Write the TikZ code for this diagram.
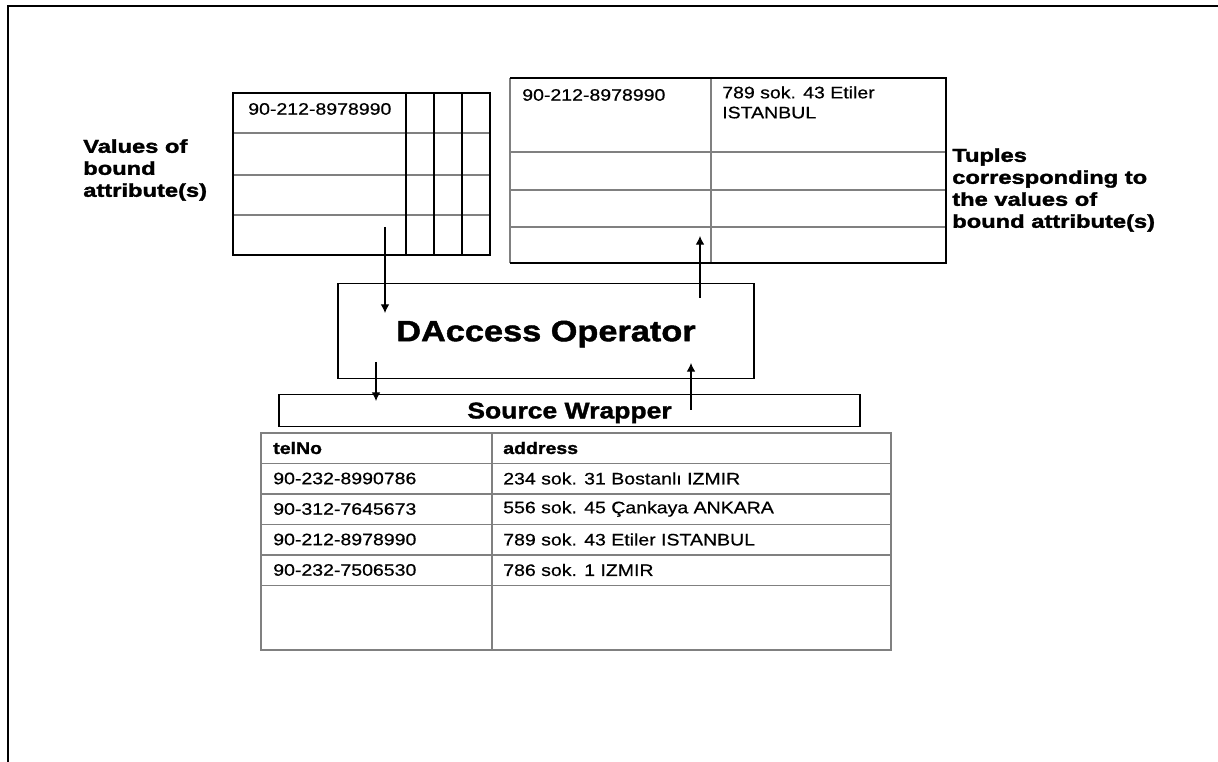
\documentclass[tikz,border=0pt]{standalone}
\usepackage{fontspec}
\setmainfont[FakeStretch=1.17, UprightFeatures={FakeBold=0.6}, BoldFeatures={FakeBold=1.5}]{Liberation Sans}
\newfontfamily\sidefont[FakeStretch=1.27, FakeBold=1.8]{Liberation Sans Bold}
\usetikzlibrary{arrows.meta}

\begin{document}
\begin{tikzpicture}[x=0.75pt, y=-0.75pt, >={Latex[length=6.5pt,width=6.5pt]},
  cell/.style={anchor=west, inner sep=0pt, font=\fontsize{12.5}{15}\selectfont},
  sidetext/.style={anchor=north west, align=left, inner sep=0pt, font=\fontsize{14}{16.5}\selectfont\sidefont},
  gline/.style={draw=gray, line width=1.2pt},
  boxline/.style={draw, line width=0.9pt, text depth=0pt}]
\useasboundingbox (0,0) rectangle (1218,762);

% frame
\draw[line width=1.5pt] (8,762) -- (8,6) -- (1218,6);

% bound values
\foreach \y in {133,175,215} \draw[gline] (233,\y) -- (490,\y);
\foreach \x in {406,434,462} \draw[line width=0.8pt] (\x,93) -- (\x,255);
\draw[line width=2.2pt] (233,93) rectangle (490,255);
\node[cell] (bv) at (248,109) {90-212-8978990};
\node[sidetext] (vlab) at (83,139) {Values of\\bound\\attribute(s)};

% result tuples
\foreach \y in {152,190,227} \draw[gline] (510,\y) -- (946,\y);
\draw[gline] (711,78) -- (711,263);
\draw[gline] (510,78) -- (510,263);
\draw[line width=2.2pt] (510,78) -- (946,78) -- (946,263) -- (510,263);
\node[cell] (rt) at (522,95) {90-212-8978990};
\node[cell, anchor=north west, align=left] (ra) at (722,86) {789 sok. 43 Etiler\\ISTANBUL};
\node[sidetext] (tlab) at (952,148) {Tuples\\corresponding to\\the values of\\bound attribute(s)};

% operator and wrapper
\node[boxline, minimum width=312pt, minimum height=71pt, font=\fontsize{22}{26}\selectfont\bfseries] (op) at (546,331) {DAccess Operator};
\node[boxline, minimum width=435.75pt, minimum height=24pt, font=\fontsize{17}{20}\selectfont\bfseries] (sw) at (569.5,410.5) {Source Wrapper};

% source table
\foreach \y in {463.5,494,524.5,555,585.5} \draw[gline] (261,\y) -- (891,\y);
\draw[gline] (492,433) -- (492,650);
\draw[gline] (261,433) rectangle (891,650);
\node[cell, font=\fontsize{12.5}{15}\selectfont\bfseries] (h1) at (273,448) {telNo};
\node[cell, font=\fontsize{12.5}{15}\selectfont\bfseries] (h2) at (503,448) {address};
\foreach \t/\a [count=\i] in {90-232-8990786/234 sok. 31 Bostanlı IZMIR,
  90-312-7645673/556 sok. 45 Çankaya ANKARA,
  90-212-8978990/789 sok. 43 Etiler ISTANBUL,
  90-232-7506530/786 sok. 1 IZMIR} {
  \node[cell] (tel\i) at (273,448+30.5*\i) {\t};
  \node[cell] (adr\i) at (503,448+30.5*\i) {\a};
}

% arrows
\coordinate (d1s) at (385,227);
\coordinate (d1e) at (385,313);
\coordinate (u1s) at (700,298);
\coordinate (u1e) at (700,236);
\coordinate (d2s) at (376,362);
\coordinate (d2e) at (376,401);
\coordinate (u2s) at (691,410);
\coordinate (u2e) at (691,363);
\draw[->, line width=0.8pt] (d1s) -- (d1e);
\draw[->, line width=0.8pt] (u1s) -- (u1e);
\draw[->, line width=0.8pt] (d2s) -- (d2e);
\draw[->, line width=0.8pt] (u2s) -- (u2e);
\end{tikzpicture}
\end{document}
